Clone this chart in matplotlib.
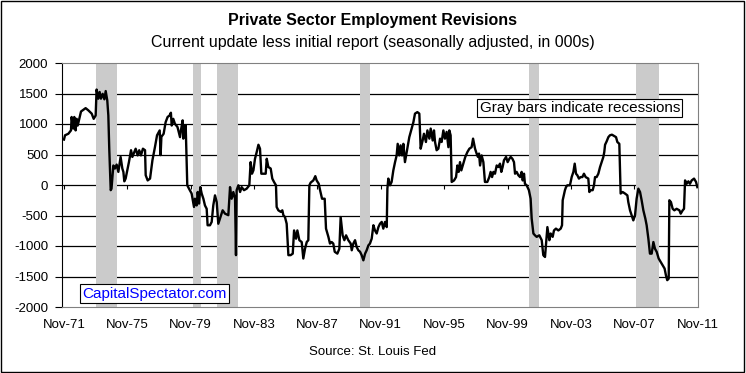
import matplotlib
matplotlib.use("Agg")
import matplotlib.pyplot as plt
from matplotlib.patches import Rectangle

plt.rcParams['font.family'] = ['Liberation Sans', 'DejaVu Sans']

# x = months counted from Nov-71, y = revision in 000s
months = [0, 0.8, 3.3, 5.3, 5.8, 7, 7.8, 8.8, 9.6, 10.4, 12.9, 16.4, 18.4, 21, 22.5, 24,
          24.7, 26, 27, 28, 29.3, 30.6, 31.6, 32.8, 33.6, 34.3, 35.4, 36, 37.4, 38.6, 39.9,
          41.2, 42.9, 44.2, 45, 45.7, 46.7, 48.2, 49.2, 50.8, 51.8, 53.3, 54.3, 55.8, 57,
          58.3, 59.8, 61.4, 61.9, 63.4, 65.2, 67, 68.9, 70.5, 72.5, 73.2, 73.8, 75.5, 77,
          78.5, 80, 81, 81.6, 82.8, 84, 86, 87.9, 88.6, 89.9, 90.4, 91.2, 91.7, 92.2, 92.9,
          93.4, 94.7, 96.7, 98.5, 99.2, 100.5, 101.3, 102.3, 103.3, 104.3, 105.6, 106.8,
          108.1, 108.8, 110.6, 111.9, 113.1, 114.4, 115.7, 116.9, 118.2, 120.2, 122, 124.5,
          125.8, 127, 128.3, 129.6, 130.3, 130.8, 132.1, 133.4, 134.6, 136.4, 138.4, 140.4,
          141.4, 142.4, 143.5, 144.7, 146, 147.3, 148.5, 149.5, 152.8, 153.6, 154.8, 156.6,
          157.8, 159.1, 160.6, 161.1, 162.4, 164.2, 165.4, 166.2, 167.4, 168.7, 170, 171.7,
          173.3, 174.3, 175.8, 176.8, 178.3, 180.1, 181.3, 182.6, 183.9, 185.1, 185.9,
          186.9, 188.9, 190.4, 191.4, 193, 194, 195.5, 197.5, 198.5, 200.3, 201.5, 202.8,
          204, 205.1, 207.1, 208.6, 209.6, 211.1, 212.4, 213.7, 215.4, 217.2, 218, 219.2,
          220.5, 221.7, 223, 224.3, 225.5, 226.8, 228.1, 229.3, 230.6, 231.8, 233.1, 234.4,
          235.6, 236.9, 238.2, 239.4, 240.7, 241.9, 243.2, 244.5, 245, 245.7, 247, 248.2,
          249.5, 250.8, 252, 252.8, 254, 255, 256.1, 257.1, 258.3, 260.1, 261.6, 263.4,
          264.7, 265.9, 267.7, 269.2, 270.2, 271.7, 272.7, 274.2, 275.3, 276.8, 277.8,
          279.3, 280.3, 281.1, 282.3, 283.6, 284.9, 286.1, 287.4, 288.6, 289.9, 291.2,
          291.9, 292.9, 293.7, 295.5, 297, 298, 299, 300, 301, 302.5, 304, 305.6, 307.1,
          308.8, 309.9, 311.4, 312.6, 313.6, 314.4, 315.2, 316.4, 317.7, 318.9, 320.7,
          322.2, 323.2, 324.3, 325.3, 326.5, 327.8, 329.1, 330.3, 331.3, 332.3, 333.3,
          334.9, 336.1, 337.4, 338.4, 339.7, 340.9, 341.7, 342.9, 344.2, 345.5, 346.7,
          347.5, 348.5, 349.2, 350.5, 352.2, 353.5, 354.3, 355.6, 356.8, 358.1, 360.1,
          361.9, 363.1, 364.4, 365.1, 366.2, 367.7, 368.7, 370.2, 371.2, 372.7, 374.5,
          376.3, 377.3, 377.8, 379.5, 380.3, 381.3, 383.3, 384.6, 385.9, 386.9, 387.9,
          388.9, 390.1, 391.4, 392.7, 393.9, 395.2, 397.2, 398, 399, 400.5, 401.5, 402.3,
          403.5, 404.8, 406.1, 407.3, 408.6, 409.3, 409.9, 411.1, 412.4, 413.6, 415.1,
          416.7, 418.2, 419.2, 420.7, 421.7, 423.2, 425, 426.8, 427.5, 428.8, 430, 431.3,
          432.6, 433.8, 435.1, 436.4, 437.6, 438.9, 440.4, 441.4, 442.7, 443.9, 445.2,
          446.5, 447.7, 449, 450.5, 452, 453.5, 455, 456, 457, 458.1, 458.6, 459.8, 461.1,
          462.4, 464.1, 466.2, 467.2, 468.7, 469.7, 470.5, 471.7, 473, 474.2, 475.5, 477.3,
          478.8, 479.8]
revisions = [745, 815, 840, 895, 1115, 925, 1115, 895, 1085, 975, 1205, 1260, 1225, 1170,
             1085, 1140, 1565, 1415, 1525, 1415, 1495, 1405, 1540, 1385, 1140, 595, -85,
             -60, 320, 270, 335, 215, 460, 270, 215, 60, 105, 270, 375, 570, 460, 540, 595,
             485, 570, 485, 595, 570, 160, 75, 105, 405, 620, 815, 895, 490, 790, 840,
             1030, 1115, 1140, 1185, 975, 1085, 1005, 950, 785, 895, 1060, 760, 975, 815,
             975, 430, -5, -60, -140, -360, -225, -335, -115, -305, -35, -140, -225, -335,
             -390, -660, -660, -605, -335, -170, -280, -635, -550, -415, -470, -495, -35,
             -225, -115, -225, -1150, -85, -5, -115, -35, -85, -60, -5, 375, 185, 240, 430,
             540, 660, 595, 185, 185, 430, 295, 270, 105, 50, -5, -360, -415, -440, -415,
             -495, -525, -635, -1150, -1150, -1125, -745, -880, -745, -905, -935, -1205,
             -1045, -935, -905, -5, 40, 75, 145, 75, 20, -85, -225, -225, -715, -850, -960,
             -935, -960, -1095, -1125, -1045, -525, -825, -905, -825, -905, -960, -1070,
             -960, -905, -1015, -1070, -1095, -1150, -1235, -1125, -1070, -990, -960, -880,
             -660, -745, -795, -690, -635, -605, -715, -605, -690, -60, 105, -5, 50, 240,
             375, 485, 675, 485, 650, 485, 675, 375, 595, 785, 925, 1030, 1170, 1195, 1170,
             595, 730, 840, 705, 895, 760, 925, 730, 895, 705, 570, 595, 760, 705, 895, 760,
             870, 620, 895, 815, 50, 75, 130, 320, 215, 375, 240, 350, 460, 540, 595, 620,
             760, 595, 515, 460, 515, 320, 485, 375, 50, 50, 130, 215, 130, 215, 185, 320,
             295, 350, 215, 295, 405, 460, 375, 430, 460, 430, 375, 185, 215, 160, 130, 215,
             75, 185, 20, -5, -85, -225, -550, -795, -825, -850, -825, -905, -1150, -1180,
             -990, -690, -905, -795, -850, -745, -715, -745, -715, -660, -250, -85, -35, -5,
             -5, 130, 215, 350, 185, 160, 105, 130, 130, 185, 130, 105, -115, -85, -85, -5,
             130, 130, 185, 295, 375, 460, 540, 660, 715, 785, 815, 825, 805, 785, 705, 675,
             -140, -115, -140, -170, -280, -415, -495, -580, -495, -225, -60, -115, -250,
             -415, -550, -660, -880, -1125, -1125, -935, -1045, -1095, -1205, -1260, -1315,
             -1370, -1480, -1560, -1535, -250, -280, -390, -415, -390, -415, -470, -415,
             -390, 75, 20, 60, 20, 75, 105, 50, -35]

recession_start = ['1973-11', '1980-01', '1981-07', '1990-07', '2001-03', '2007-12']
recession_end = ['1975-03', '1980-07', '1982-11', '1991-03', '2001-11', '2009-06']

tick_labels = ['Nov-71', 'Nov-75', 'Nov-79', 'Nov-83', 'Nov-87', 'Nov-91',
               'Nov-95', 'Nov-99', 'Nov-03', 'Nov-07', 'Nov-11']
y_ticks = [-2000, -1500, -1000, -500, 0, 500, 1000, 1500, 2000]


def month_index(s):
    y, m = s.split('-')
    return (int(y) - 1971) * 12 + int(m) - 11


fig = plt.figure(figsize=(7.46, 3.73), dpi=100)
ax = fig.add_axes([62 / 746, 66 / 373, 636 / 746, 244 / 373])

for s, e in zip(recession_start, recession_end):
    ax.axvspan(month_index(s), month_index(e), facecolor='#cbcbcb', edgecolor='none', zorder=1)

for v in y_ticks[1:-1]:
    ax.axhline(v, color='black', lw=0.9, zorder=0.5)

x_ticks = [48 * i for i in range(len(tick_labels))]
ax.vlines(x_ticks, -70, 0, color='black', lw=0.8, zorder=2)

ax.plot(months, revisions, color='black', lw=1.7, zorder=3)

ax.set_xlim(-1.5, 480.3)
ax.set_ylim(-2000, 2000)
ax.set_xticks(x_ticks)
ax.set_xticklabels(tick_labels)
ax.set_yticks(y_ticks)
ax.set_yticklabels([str(v) for v in y_ticks])
ax.tick_params(axis='x', length=0, pad=9, labelsize=9.5)
ax.tick_params(axis='y', direction='out', length=5, width=0.8, pad=5, labelsize=9.5)

ax.spines['left'].set_linewidth(0.8)
for side in ['top', 'right', 'bottom']:
    ax.spines[side].set_color('#808080')
    ax.spines[side].set_linestyle((0, (1, 1)))
    ax.spines[side].set_linewidth(0.8)

ax.text(0.814, 0.816, 'Gray bars indicate recessions', transform=ax.transAxes,
        ha='center', va='center', fontsize=11, zorder=5,
        bbox=dict(boxstyle='square,pad=0.15', fc='white', ec='black', lw=0.8))
ax.text(0.146, 0.055, 'CapitalSpectator.com', transform=ax.transAxes,
        ha='center', va='center', fontsize=11, color='#0000ff', zorder=5,
        bbox=dict(boxstyle='square,pad=0.15', fc='white', ec='black', lw=0.8))

fig.text(0.5, 1 - 20 / 373, 'Private Sector Employment Revisions', ha='center', va='center',
         fontsize=11.5, fontweight='bold')
fig.text(0.5, 1 - 42 / 373, 'Current update less initial report (seasonally adjusted, in 000s)',
         ha='center', va='center', fontsize=11.5)
fig.text(0.5, 1 - 352 / 373, 'Source: St. Louis Fed', ha='center', va='center', fontsize=9.5)

fig.add_artist(Rectangle((0.002, 0.004), 0.995, 0.992, transform=fig.transFigure,
                         fill=False, ec='black', lw=1))

fig.savefig('out.png', dpi=100)
